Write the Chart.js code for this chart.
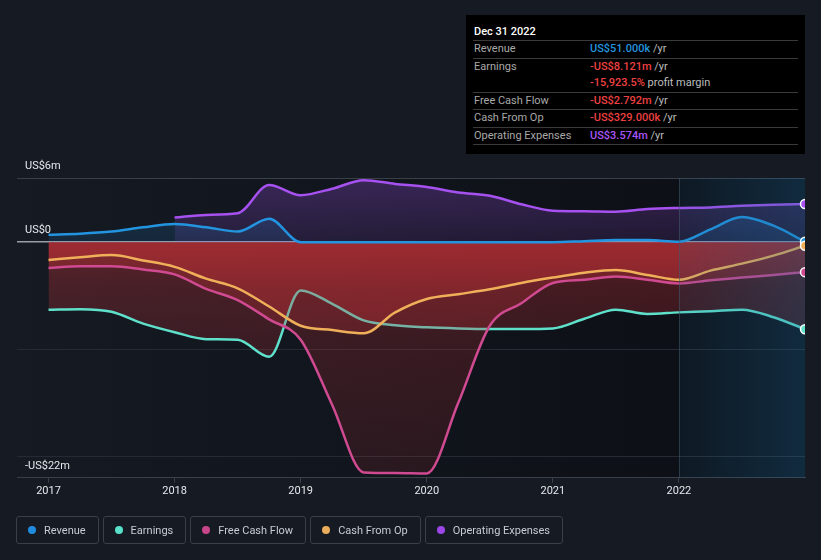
<!DOCTYPE html>
<html>
<head>
<meta charset="utf-8">
<script src="https://cdn.jsdelivr.net/npm/chart.js@4.4.1/dist/chart.umd.min.js"></script>
<style>
  html, body { margin: 0; padding: 0; background: #151a23; }
  #wrap { position: relative; width: 821px; height: 560px; overflow: hidden; font-family: Roboto, sans-serif; }
  #grafico { position: absolute; left: 0; top: 0; }
  #tip { position: absolute; left: 466px; top: 15px; width: 339px; height: 139px; background: #000; box-sizing: border-box; padding: 0 7px; font-size: 11px; color: #a8a8a8; }
  #tip .tit { color: #fff; padding: 10px 0 2px 1px; line-height: 13px; border-bottom: 1px solid #3a3a3a; font-weight: 500; }
  #tip .fila { display: flex; padding-left: 1px; line-height: 16.5px; border-bottom: 1px solid #3a3a3a; }
  #tip .lab { width: 116px; flex: none; }
  #tip .val { font-weight: 500; }
  #tip .yr { color: #bdbdbd; }
  #leyenda { position: absolute; left: 16px; top: 516px; display: flex; gap: 4px; }
  #leyenda .item { height: 28px; box-sizing: border-box; border: 1px solid #3a3f48; border-radius: 3px; padding: 0 12px 0 11px; display: flex; align-items: center; gap: 8px; color: #c8ccd2; font-size: 11px; }
  #leyenda .dot { width: 8px; height: 8px; border-radius: 50%; }
</style>
</head>
<body>
<div id="wrap">
  <canvas id="grafico" width="821" height="560"></canvas>
  <div id="tip">
    <div class="tit">Dec 31 2022</div>
    <div class="fila"><span class="lab">Revenue</span><span><span class="val" style="color:#2394df">US$51.000k</span> <span class="yr">/yr</span></span></div>
    <div class="fila" style="flex-direction:column">
      <div style="display:flex"><span class="lab">Earnings</span><span><span class="val" style="color:#ee4040">-US$8.121m</span> <span class="yr">/yr</span></span></div>
      <div style="display:flex"><span class="lab"></span><span><span class="val" style="color:#ee4040">-15,923.5%</span> <span class="yr">profit margin</span></span></div>
    </div>
    <div class="fila"><span class="lab">Free Cash Flow</span><span><span class="val" style="color:#ee4040">-US$2.792m</span> <span class="yr">/yr</span></span></div>
    <div class="fila"><span class="lab">Cash From Op</span><span><span class="val" style="color:#ee4040">-US$329.000k</span> <span class="yr">/yr</span></span></div>
    <div class="fila"><span class="lab">Operating Expenses</span><span><span class="val" style="color:#a855f7">US$3.574m</span> <span class="yr">/yr</span></span></div>
  </div>
  <div id="leyenda"></div>
</div>
<script>
// periodos (fin de cada trimestre), el ultimo es Dec 31 2022
const periodos = [2017.0, 2017.25, 2017.5, 2017.75, 2018.0, 2018.25, 2018.5, 2018.75, 2019.0, 2019.25, 2019.5, 2019.75, 2020.0, 2020.25, 2020.5, 2020.75, 2021.0, 2021.25, 2021.5, 2021.75, 2022.0, 2022.25, 2022.5, 2022.75, 2023.0];
// valores en millones de US$
const ingresos = [0.7, 0.8, 1.0, 1.4, 1.7, 1.4, 1.0, 2.2, 0, 0, 0, 0, 0, 0, 0, 0, 0, 0.1, 0.2, 0.2, 0.05, 1.2, 2.35, 1.55, 0.051];
const beneficios = [-6.3, -6.25, -6.5, -7.6, -8.4, -9.05, -9.1, -10.7, -4.5, -5.75, -7.3, -7.75, -7.95, -8.05, -8.1, -8.1, -8.05, -7.15, -6.3, -6.7, -6.55, -6.45, -6.3, -7.0, -8.121];
const flujoLibre = [-2.4, -2.25, -2.25, -2.55, -3.0, -4.35, -5.4, -7.2, -9.1, -15.2, -21.5, -21.55, -21.6, -15.0, -7.8, -5.7, -3.8, -3.5, -3.2, -3.5, -3.85, -3.55, -3.3, -3.05, -2.792];
const flujoOperativo = [-1.65, -1.4, -1.2, -1.7, -2.3, -3.4, -4.3, -6.0, -7.8, -8.2, -8.5, -6.55, -5.3, -4.85, -4.4, -3.8, -3.3, -2.85, -2.6, -3.05, -3.5, -2.65, -2.0, -1.25, -0.329];
const gastosOperativos = [null, null, null, null, 2.3, 2.55, 2.7, 5.35, 4.4, 5.0, 5.8, 5.45, 5.15, 4.65, 4.35, 3.55, 2.95, 2.9, 2.85, 3.1, 3.2, 3.25, 3.4, 3.5, 3.574];

const aniosEje = [2017, 2018, 2019, 2020, 2021, 2022];
const lineasY = [6, 0, -10, -20];
const valoresY = [6, 0, -22];
const etiquetasY = ['US$6m', 'US$0', '-US$22m'];
const series = ['Revenue', 'Earnings', 'Free Cash Flow', 'Cash From Op', 'Operating Expenses'];
const coloresLeyenda = ['#1f8ce0', '#58e1c8', '#c7468a', '#e9ad5c', '#9d47e8'];

document.addEventListener("DOMContentLoaded", () => {
const ley = document.getElementById('leyenda');
series.forEach((s, i) => {
    ley.insertAdjacentHTML('beforeend', '<div class="item"><span class="dot" style="background:' + coloresLeyenda[i] + '"></span><span>' + s + '</span></div>');
});

const puntos = arr => periodos.map((p, i) => ({ x: p, y: arr[i] }));

// degradado vertical entre dos valores del eje y
function degradado(ctx, desde, hasta, rgb, a1, a2, medio) {
    const chart = ctx.chart;
    if (!chart.chartArea) return 'transparent';
    const y = chart.scales.y;
    const g = chart.ctx.createLinearGradient(0, y.getPixelForValue(desde), 0, y.getPixelForValue(hasta));
    g.addColorStop(0, 'rgba(' + rgb + ',' + a1 + ')');
    if (medio) medio.forEach(m => g.addColorStop(m[0], 'rgba(' + rgb + ',' + m[1] + ')'));
    g.addColorStop(1, 'rgba(' + rgb + ',' + a2 + ')');
    return g;
}
const rojo = ctx => degradado(ctx, 0, -22, '190,48,54', 0.42, 0.14, [[0.2, 0.3], [0.45, 0.23]]);

const marcas = [
    { idx: 0, color: '#2394df' }, { idx: 1, color: '#f0b05a' }, { idx: 2, color: '#d04a91' },
    { idx: 3, color: '#5ee0cb' }, { idx: 5, color: '#a651f0' }
];

const pluginFondo = {
    id: 'fondo',
    beforeDraw(chart) {
        const { ctx, chartArea: a, scales } = chart;
        const x22 = scales.x.getPixelForValue(2022);
        const g = ctx.createLinearGradient(a.left, 0, x22, 0);
        g.addColorStop(0, '#151a23');
        g.addColorStop(1, '#0d1016');
        ctx.save();
        ctx.fillStyle = g;
        ctx.fillRect(a.left, a.top, x22 - a.left, a.bottom - a.top);
        ctx.fillStyle = '#0d1016';
        ctx.fillRect(x22, a.top, a.right - x22, a.bottom - a.top);
        ctx.restore();
    },
    afterDatasetsDraw(chart) {
        const { ctx, chartArea: a, scales } = chart;
        const x22 = scales.x.getPixelForValue(2022);
        ctx.save();
        const g = ctx.createLinearGradient(x22, 0, a.right, 0);
        g.addColorStop(0, 'rgba(25,105,155,0.10)');
        g.addColorStop(1, 'rgba(25,105,155,0.30)');
        ctx.fillStyle = g;
        ctx.fillRect(x22, a.top, a.right - x22, a.bottom - a.top);
        ctx.strokeStyle = 'rgba(70,88,105,0.55)';
        ctx.lineWidth = 1;
        ctx.beginPath();
        ctx.moveTo(Math.round(x22) + 0.5, a.top);
        ctx.lineTo(Math.round(x22) + 0.5, a.bottom);
        ctx.stroke();
        // marcadores finales, recortados al area
        ctx.beginPath();
        ctx.rect(a.left, a.top, a.right - a.left, a.bottom - a.top);
        ctx.clip();
        marcas.forEach(m => {
            const d = chart.getDatasetMeta(m.idx).data;
            const p = d[d.length - 1];
            ctx.beginPath();
            ctx.arc(p.x, p.y, 4.5, 0, Math.PI * 2);
            ctx.fillStyle = m.color;
            ctx.fill();
            ctx.lineWidth = 1.5;
            ctx.strokeStyle = '#ffffff';
            ctx.stroke();
        });
        ctx.restore();
    },
    afterDraw(chart) {
        const { ctx, scales } = chart;
        ctx.save();
        ctx.font = '11px Roboto';
        ctx.fillStyle = '#e6e8eb';
        ctx.textBaseline = 'middle';
        valoresY.forEach((v, i) => {
            ctx.fillText(etiquetasY[i], 25, scales.y.getPixelForValue(v) - 12);
        });
        ctx.restore();
    }
};

const base = { parsing: true, pointRadius: 0, borderWidth: 2.5, cubicInterpolationMode: 'monotone', spanGaps: false };

new Chart(document.getElementById('grafico').getContext('2d'), {
    type: 'line',
    data: {
        datasets: [
            { ...base, label: 'Revenue', order: 0, data: puntos(ingresos), borderColor: '#2394df', fill: 'origin',
              backgroundColor: ctx => degradado(ctx, 6, 0, '35,145,229', 0.24, 0.13) },
            { ...base, label: 'Cash From Op', order: 1, data: puntos(flujoOperativo), borderColor: '#f0b05a', fill: false },
            { ...base, label: 'Free Cash Flow', order: 2, data: puntos(flujoLibre), borderColor: '#d04a91', fill: 'origin', backgroundColor: rojo },
            { ...base, label: 'Earnings', order: 3, data: puntos(beneficios), borderColor: '#5ee0cb', fill: 'origin', backgroundColor: rojo },
            { ...base, label: 'Cash From Op area', order: 4, data: puntos(flujoOperativo), borderWidth: 0, borderColor: 'transparent', fill: 'origin', backgroundColor: rojo },
            { ...base, label: 'Operating Expenses', order: 5, data: puntos(gastosOperativos), borderColor: '#a651f0', fill: 'origin',
              backgroundColor: ctx => degradado(ctx, 6, 0, '168,85,247', 0.27, 0.12) }
        ]
    },
    options: {
        responsive: false,
        animation: false,
        layout: { padding: { left: 17, right: 16, top: 178, bottom: 60 } },
        plugins: { legend: { display: false }, tooltip: { enabled: false } },
        scales: {
            x: {
                type: 'linear', min: 2016.75, max: 2023.0,
                afterBuildTicks: s => { s.ticks = aniosEje.map(v => ({ value: v })); },
                ticks: { color: '#e6e8eb', font: { size: 11, family: 'Roboto' }, padding: 2, callback: v => String(v) },
                grid: { drawOnChartArea: false, drawTicks: true, tickLength: 5, color: '#3a3f48' },
                border: { color: '#3a3f48' }
            },
            y: {
                min: -22, max: 6,
                afterBuildTicks: s => { s.ticks = lineasY.map(v => ({ value: v })); },
                ticks: { display: false },
                grid: { drawTicks: false, color: c => c.tick.value === 0 ? '#9a9ea6' : (c.tick.value === 6 ? '#3a3f48' : '#262b33'),
                        lineWidth: c => c.tick.value === 0 ? 1.5 : 1 },
                border: { display: false }
            }
        }
    },
    plugins: [pluginFondo]
});
});
</script>
</body>
</html>
